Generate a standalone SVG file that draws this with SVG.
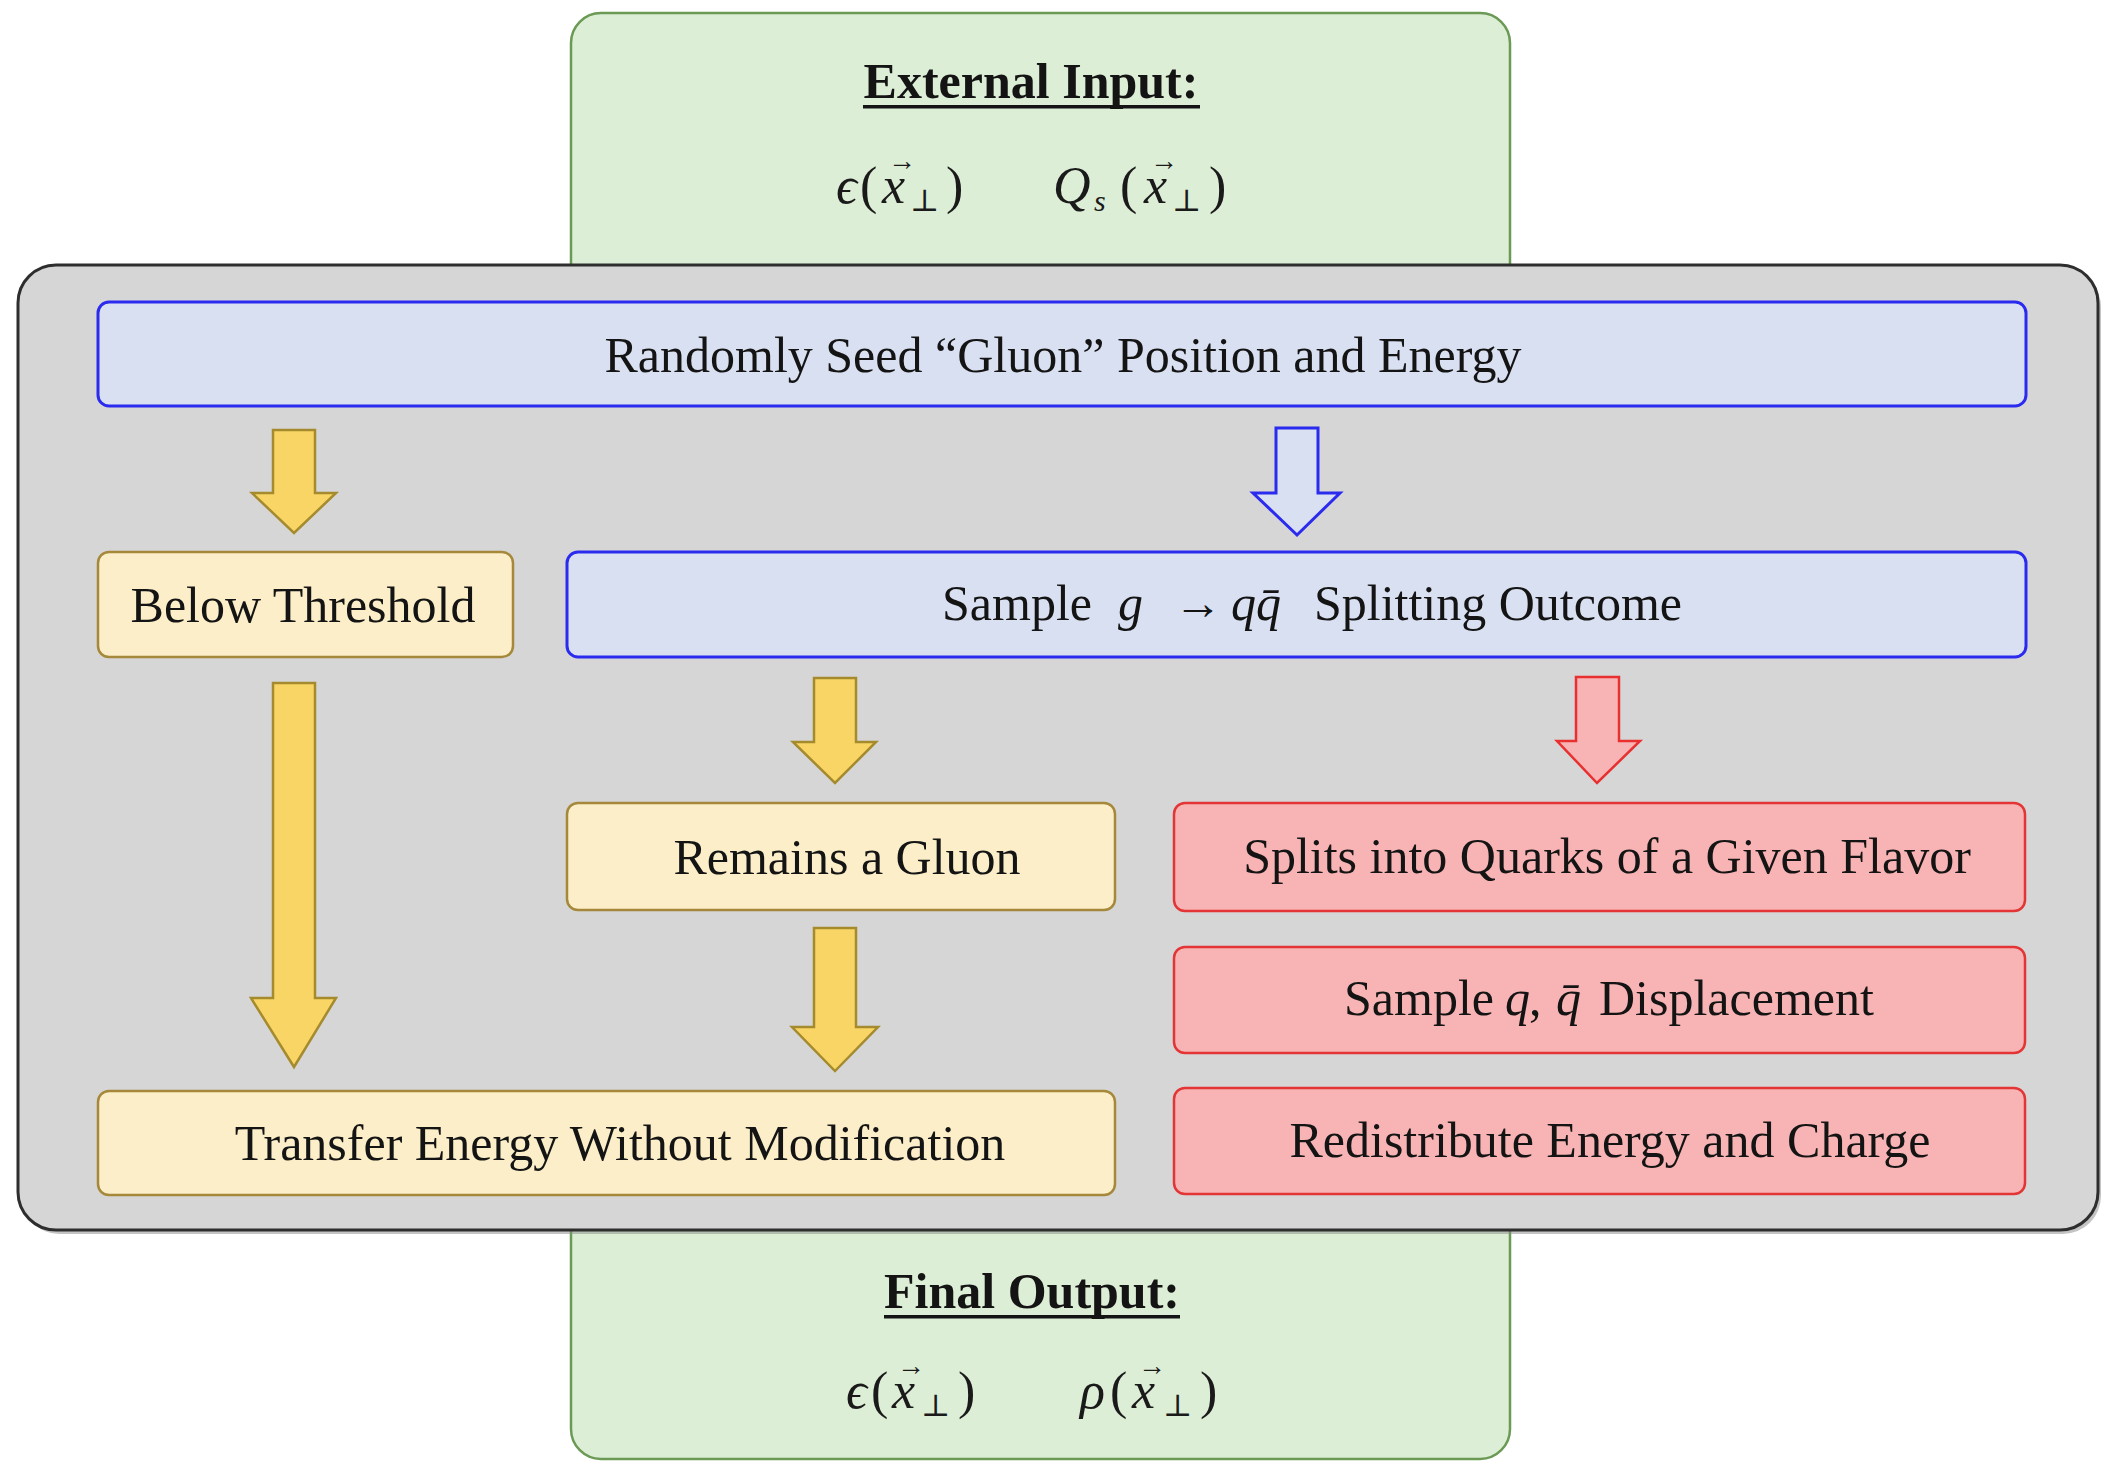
<svg xmlns="http://www.w3.org/2000/svg" width="2102" height="1462" viewBox="0 0 2102 1462">
<defs>
<style>
.t{font-family:"Liberation Serif","Times New Roman",serif;font-size:50px;fill:#141414}
.c{text-anchor:middle}
.b{font-weight:bold}
.m{font-family:"Liberation Serif","DejaVu Serif",serif;font-size:52px;fill:#1a1a1a}
.i{font-style:italic}
.sm{font-size:28px;font-style:normal}
.sub{font-size:31px;font-style:normal}
.green{fill:#ddeed6;stroke:#6b9a55;stroke-width:2.5}
.gray{fill:#d6d6d6;stroke:#2e2e2e;stroke-width:3}
.blue{fill:#d9e0f1;stroke:#2b2bef;stroke-width:3}
.yel{fill:#fbeec8;stroke:#a6883a;stroke-width:2.5}
.red{fill:#f8b4b4;stroke:#e33535;stroke-width:2.5}
.ya{fill:#f9d565;stroke:#a58a2e;stroke-width:2.5;stroke-linejoin:miter}
.ba{fill:#d9e0f1;stroke:#2b2bef;stroke-width:3}
.ra{fill:#f8b4b4;stroke:#e83030;stroke-width:2.5}
</style>
</defs>
<rect width="2102" height="1462" fill="#ffffff"/>

<g id="external-input">
<rect class="green" x="571" y="13" width="939" height="300" rx="30"/>
<text class="t b c" x="1031" y="98">External Input:</text>
<rect x="863" y="105" width="337" height="3.5" fill="#141414"/>
<text class="m"><tspan class="i" x="836" y="203">ϵ</tspan><tspan x="860" y="203">(</tspan><tspan class="i" x="882" y="203">x</tspan><tspan class="sm" x="888" y="170">→</tspan><tspan class="sub" x="910" y="211">⊥</tspan><tspan x="946" y="203">)</tspan></text>
<text class="m"><tspan class="i" x="1053" y="203">Q</tspan><tspan class="i" font-size="30" x="1094" y="211">s</tspan><tspan x="1120" y="203">(</tspan><tspan class="i" x="1144" y="203">x</tspan><tspan class="sm" x="1150" y="170">→</tspan><tspan class="sub" x="1172" y="211">⊥</tspan><tspan x="1209" y="203">)</tspan></text>
</g>

<g id="final-output">
<rect class="green" x="571" y="1180" width="939" height="279" rx="30"/>
<text class="t b c" x="1032" y="1308">Final Output:</text>
<rect x="884" y="1315" width="296" height="3.5" fill="#141414"/>
<text class="m"><tspan class="i" x="846" y="1408">ϵ</tspan><tspan x="871" y="1408">(</tspan><tspan class="i" x="892" y="1408">x</tspan><tspan class="sm" x="897" y="1375">→</tspan><tspan class="sub" x="921" y="1416">⊥</tspan><tspan x="958" y="1408">)</tspan></text>
<text class="m"><tspan class="i" x="1080" y="1408">ρ</tspan><tspan x="1110" y="1408">(</tspan><tspan class="i" x="1132" y="1408">x</tspan><tspan class="sm" x="1138" y="1375">→</tspan><tspan class="sub" x="1163" y="1416">⊥</tspan><tspan x="1200" y="1408">)</tspan></text>
</g>

<g id="process-frame">
<rect x="21" y="269" width="2080" height="965" rx="38" fill="#8a8a8a" opacity="0.5"/>
<rect class="gray" x="18" y="265" width="2080" height="965" rx="38"/>
</g>

<g id="seed">
<rect class="blue" x="98" y="302" width="1928" height="104" rx="11"/>
<text class="t c" x="1063" y="372">Randomly Seed “Gluon” Position and Energy</text>
</g>

<g id="below-threshold">
<rect class="yel" x="98" y="552" width="415" height="105" rx="11"/>
<text class="t c" x="303" y="622">Below Threshold</text>
</g>

<g id="sample-splitting">
<rect class="blue" x="567" y="552" width="1459" height="105" rx="11"/>
<text class="t"><tspan x="942" y="620">Sample</tspan><tspan class="i" x="1118" y="620">g</tspan><tspan font-size="48" x="1174" y="619">→</tspan><tspan class="i" x="1231" y="620">qq̄</tspan><tspan x="1314" y="620">Splitting Outcome</tspan></text>
</g>

<g id="remains-gluon">
<rect class="yel" x="567" y="803" width="548" height="107" rx="11"/>
<text class="t c" x="847" y="874">Remains a Gluon</text>
</g>

<g id="splits-quarks">
<rect class="red" x="1174" y="803" width="851" height="108" rx="11"/>
<text class="t c" x="1607" y="873">Splits into Quarks of a Given Flavor</text>
</g>

<g id="sample-displacement">
<rect class="red" x="1174" y="947" width="851" height="106" rx="11"/>
<text class="t"><tspan x="1344" y="1015">Sample</tspan><tspan class="i" x="1505" y="1015">q</tspan><tspan x="1529" y="1015">,</tspan><tspan class="i" x="1556" y="1015">q̄</tspan><tspan x="1599" y="1015">Displacement</tspan></text>
</g>

<g id="redistribute">
<rect class="red" x="1174" y="1088" width="851" height="106" rx="11"/>
<text class="t c" x="1610" y="1157">Redistribute Energy and Charge</text>
</g>

<g id="transfer-energy">
<rect class="yel" x="98" y="1091" width="1017" height="104" rx="11"/>
<text class="t c" x="620" y="1160">Transfer Energy Without Modification</text>
</g>

<g id="connectors">
<polygon class="ya" points="273,430 315,430 315,493 336,493 294,533 252,493 273,493"/>
<polygon class="ba" points="1276,428 1318,428 1318,493 1340,493 1297,535 1253,493 1276,493"/>
<polygon class="ya" points="273,683 315,683 315,998 336,998 294,1067 251,998 273,998"/>
<polygon class="ya" points="814,678 856,678 856,742 876,742 835,783 793,742 814,742"/>
<polygon class="ra" points="1576,677 1619,677 1619,741 1640,741 1597,783 1557,741 1576,741"/>
<polygon class="ya" points="814,928 856,928 856,1027 878,1027 835,1071 792,1027 814,1027"/>
</g>
</svg>
